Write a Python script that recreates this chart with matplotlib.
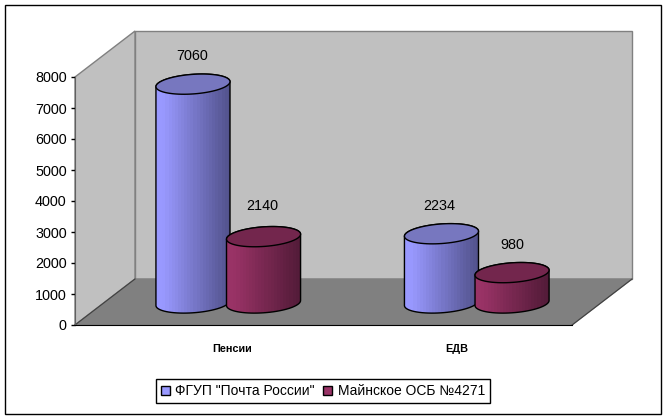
import numpy as np
import matplotlib

matplotlib.use('Agg')
import matplotlib.pyplot as plt
from matplotlib.colors import LinearSegmentedColormap
from matplotlib.patches import Polygon, Rectangle
from matplotlib.transforms import Affine2D

categories = ['Пенсии', 'ЕДВ']
series_names = ['ФГУП "Почта России"', 'Майнское ОСБ №4271']
pochta = [7060, 2234]
osb = [2140, 980]
y_ticks = [0, 1000, 2000, 3000, 4000, 5000, 6000, 7000, 8000]

plt.rcParams['font.family'] = ['Liberation Sans', 'DejaVu Sans']

W, H = 666, 420
fig = plt.figure(figsize=(W / 100, H / 100), dpi=100, facecolor='white')
ax = fig.add_axes([75 / W, (H - 325) / H, 497 / W, 248 / H])
ax.set_xlim(0, 2)
ax.set_ylim(0, 8000)
ax.patch.set_visible(False)

# outer frame of the chart
fig.add_artist(Rectangle((4.5 / W, (H - 414) / H), 656 / W, 409 / H, fill=False,
                         edgecolor='black', linewidth=1, transform=fig.transFigure))

# depth of the 3d box in pixels
mid = ax.transData + Affine2D().translate(30, 22)
y_per_px = 8000 / 248


def box_point(x, y, depth):
    # data point on the front plane, moved to depth 0..1, in display pixels
    return ax.transData.transform((x, y)) + np.array([60, 46]) * depth


def draw_box():
    wall = [box_point(0, 8000, 1), box_point(2, 8000, 1), box_point(2, 0, 1), box_point(0, 0, 1)]
    side = [box_point(0, 8000, 0), box_point(0, 8000, 1), box_point(0, 0, 1), box_point(0, 0, 0)]
    floor = [box_point(0, 0, 0), box_point(0, 0, 1), box_point(2, 0, 1), box_point(2, 0, 0)]
    for pts, col in [(wall, '#c0c0c0'), (side, '#c0c0c0'), (floor, '#808080')]:
        ax.add_patch(Polygon(pts, closed=True, facecolor=col, edgecolor='#808080', linewidth=1,
                             transform=None, clip_on=False, zorder=1))
    for x in [0, 2]:
        a, b = box_point(x, 0, 0), box_point(x, 0, 1)
        ax.add_line(plt.Line2D([a[0], b[0]], [a[1], b[1]], color='#404040', linewidth=0.8,
                               transform=None, clip_on=False, zorder=1.5))


def draw_cylinder(center, value, width, light, dark, top_color, z, label_gap, label_shift):
    half = width / 2
    b = 9.8 * y_per_px
    tilt = 2.5 * y_per_px
    t = np.linspace(0, 2 * np.pi, 121)
    ex = half * np.cos(t)
    ey = b * np.sin(t) + tilt * np.cos(t)
    low = t[60:121]
    # outline of the body: lower half of base, then upper half of top
    bx = center + half * np.cos(low)
    by = b * np.sin(low) + tilt * np.cos(low)
    tx = center + ex[:61]
    ty = value + ey[:61]
    body = Polygon(np.column_stack([np.r_[bx, tx], np.r_[by, ty]]), closed=True, facecolor='none',
                   edgecolor='black', linewidth=1, transform=mid, zorder=z + 0.2, clip_on=False)
    ax.add_patch(body)
    cmap = LinearSegmentedColormap.from_list('c', [(0, light), (0.08, light), (1, dark)], N=24)
    grad = np.linspace(0, 1, 256).reshape(1, -1)
    im = ax.imshow(grad, cmap=cmap, extent=[center - half, center + half, -2 * b, value + 2 * b],
                   aspect='auto', transform=mid, zorder=z, interpolation='nearest')
    im.set_clip_path(body)
    ax.add_patch(Polygon(np.column_stack([center + ex, value + ey]), closed=True, facecolor=top_color,
                         edgecolor='black', linewidth=1, transform=mid, zorder=z + 0.3, clip_on=False))
    ax.text(center + label_shift, value + label_gap * y_per_px, str(value), transform=mid, ha='center',
            va='center', fontsize=10.4, color='black', zorder=20)


draw_box()

bar_width = 0.298
offset = 0.142
colors = [('#9999ff', '#52528c', '#7777bf'), ('#993366', '#521b38', '#73264d')]
gaps = [[28, 31], [28, 28]]
shifts = [[-0.004, -0.004], [-0.008, 0]]
z = 3
for i in range(len(categories)):
    for j, vals in enumerate([pochta, osb]):
        c = i + 0.5 + (j * 2 - 1) * offset - 0.004
        draw_cylinder(c, vals[i], bar_width, colors[j][0], colors[j][1], colors[j][2], z, gaps[i][j],
                      shifts[i][j])
        z += 1

ax.spines['top'].set_visible(False)
ax.spines['right'].set_visible(False)
ax.spines['left'].set_color('#606060')
ax.spines['left'].set_zorder(2)
ax.spines['bottom'].set_zorder(2)
ax.set_yticks(y_ticks)
ax.tick_params(axis='y', length=3, width=1, pad=3, labelsize=10.4)
ax.set_xticks([0.632, 1.537], categories, fontweight='bold', fontsize=7.8)
ax.tick_params(axis='x', length=0, pad=14)

handles = [Rectangle((0, 0), 1, 1, facecolor=colors[k][0], edgecolor='black', linewidth=1) for k in range(2)]
fig.legend(handles, series_names, loc='center', bbox_to_anchor=(323 / W, (H - 391) / H), ncols=2,
           fontsize=10, fancybox=False, framealpha=1, edgecolor='black', borderpad=0.35,
           handlelength=0.65, handleheight=0.6, handletextpad=0.4, columnspacing=0.6, borderaxespad=0)

fig.savefig('out.png', dpi=100)
